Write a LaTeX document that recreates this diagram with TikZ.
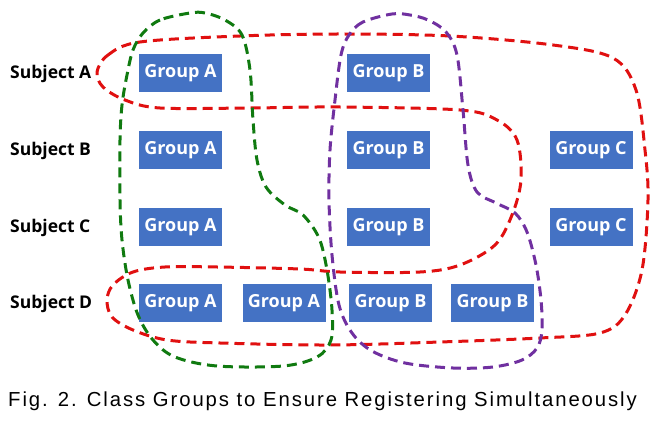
\documentclass[tikz,border=0pt]{standalone}
\usepackage{fontspec}
\setmainfont{Open Sans}[BoldFont={Open Sans Bold}]
\newfontfamily\capfont{Liberation Sans}[LetterSpace=9.5]
\definecolor{boxblue}{HTML}{4472C4}
\definecolor{lred}{HTML}{E01010}
\definecolor{lgreen}{HTML}{107A10}
\definecolor{lpurple}{HTML}{7030A0}
\tikzset{
  grp/.style={fill=boxblue, minimum width=83pt, minimum height=38pt, inner sep=0pt,
    text=white, font=\fontsize{18}{20}\selectfont\bfseries},
  subj/.style={anchor=west, inner sep=0pt, font=\fontsize{17.5}{20}\selectfont\bfseries},
  loop/.style={line width=3pt, dash pattern=on 10pt off 6pt}
}
\begin{document}
\begin{tikzpicture}[x=1pt,y=-1pt]
\useasboundingbox (0,0) rectangle (667,422);
% subject labels
\node[subj] (sa) at (10,74) {Subject A};
\node[subj] (sb) at (10,151) {Subject B};
\node[subj] (sc) at (10,228) {Subject C};
\node[subj] (sd) at (10,304) {Subject D};
% groups
\node[grp] (a1) at (180.5,73) {Group A};
\node[grp] (a2) at (180.5,150) {Group A};
\node[grp] (a3) at (180.5,227) {Group A};
\node[grp] (a4) at (180.5,303) {Group A};
\node[grp] (a5) at (284,303) {Group A};
\node[grp] (b1) at (388.5,73) {Group B};
\node[grp] (b2) at (388.5,150) {Group B};
\node[grp] (b3) at (388.5,227) {Group B};
\node[grp] (b4) at (390.5,303) {Group B};
\node[grp] (b5) at (492.5,303) {Group B};
\node[grp] (c2) at (591,150) {Group C};
\node[grp] (c3) at (591,227) {Group C};
% red loop
\draw[loop, lred] plot[smooth cycle, tension=0.55] coordinates {
 (97,72) (108,55) (140,42) (240,36) (340,34) (450,36) (553,45) (613,58) (636,90)
 (645,150) (648,200) (642,270) (625,315) (600,333) (540,338) (440,342) (330,345)
 (220,343) (167,340) (133,330) (112,317) (107,300) (113,285) (133,272) (165,267)
 (217,267) (300,269) (340,272) (420,272) (460,265) (495,245) (512,215) (521,180)
 (517,140) (497,120) (460,110) (340,107) (250,108) (160,108) (125,100) (103,87)};
% green loop
\draw[loop, lgreen] plot[smooth cycle, tension=0.55] coordinates {
 (190,13) (160,20) (143,33) (133,50) (127,75) (122,105) (120,140) (120,200)
 (122,240) (128,280) (138,315) (153,340) (175,357) (217,366) (283,366) (317,357)
 (331,340) (332,310) (327,270) (319,238) (303,215) (285,205) (266,187) (257,160)
 (253,120) (250,70) (242,35) (225,20) (205,13)};
% purple loop
\draw[loop, lpurple] plot[smooth cycle, tension=0.55] coordinates {
 (392,14) (363,22) (349,35) (341,55) (335,100) (330,150) (329,200) (332,255)
 (339,305) (352,333) (372,351) (405,363) (453,368) (493,367) (522,360) (537,348)
 (542,330) (541,300) (536,265) (527,232) (515,213) (496,203) (477,192) (468,165)
 (463,110) (457,55) (446,32) (428,20) (410,15)};
% caption
\node[anchor=base west, inner sep=0pt, font=\capfont\fontsize{20.3}{22}\selectfont] (cap) at (8,406)
 {Fig. 2. Class Groups to Ensure Registering Simultaneously};
\end{tikzpicture}
\end{document}
